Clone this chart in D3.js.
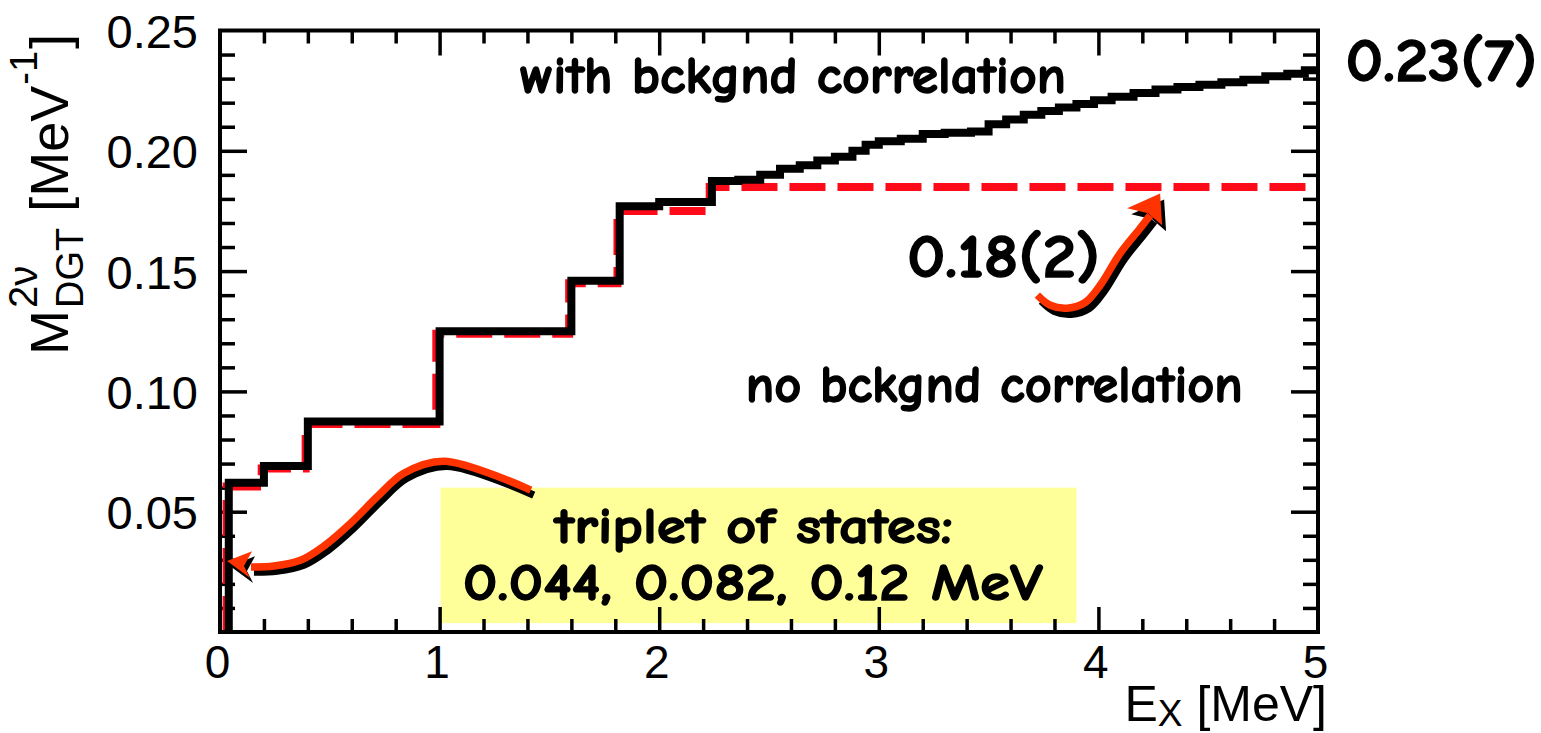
<!DOCTYPE html>
<html>
<head>
<meta charset="utf-8">
<script src="https://cdn.jsdelivr.net/npm/d3@7/dist/d3.min.js"></script>
<style>
body { margin: 0; background: #fff; }
.tick line { stroke: #000; stroke-width: 3.5; }
.lbl { font-family: "Liberation Sans", Arial, Helvetica, sans-serif; fill: #000; }
.cmc { font-family: "Comic Sans MS", "Comic Neue", "Open Sans", sans-serif; font-weight: 700; fill: #000; stroke: #000; stroke-width: 1.3; }
</style>
</head>
<body>
<svg id="chart"></svg>
<script>
// with bckgnd correlation: energy where each step starts, value after it
var withE = [0.04, 0.2, 0.4, 1.0, 1.6, 1.82, 2.0, 2.24, 2.36, 2.46, 2.55, 2.64, 2.72, 2.80, 2.88, 2.94, 3.00, 3.10, 3.20, 3.30,
             3.42, 3.50, 3.58, 3.66, 3.74, 3.82, 3.90, 3.98, 4.06, 4.16, 4.26, 4.36, 4.46, 4.56, 4.66, 4.76, 4.86, 4.94];
var withM = [0.062, 0.069, 0.0875, 0.125, 0.146, 0.177, 0.1787, 0.1875, 0.188, 0.190, 0.1925, 0.194, 0.196, 0.1975, 0.200, 0.2025, 0.204, 0.205, 0.207, 0.2075,
             0.208, 0.211, 0.213, 0.215, 0.2165, 0.218, 0.2195, 0.221, 0.2225, 0.224, 0.2255, 0.2265, 0.2275, 0.2285, 0.2295, 0.231, 0.232, 0.2335];
// no bckgnd correlation
var noE = [0.03, 0.19, 0.39, 0.985, 1.59, 1.81, 2.23];
var noM = [0.0605, 0.068, 0.0865, 0.124, 0.145, 0.175, 0.185];

var xMajor = [0, 1, 2, 3, 4, 5];
var yMajor = [0.05, 0.10, 0.15, 0.20, 0.25];

// annotation arrows, in data units [E, M]
var arrowLowE = [1.415, 1.019, 0.837, 0.719, 0.596, 0.473, 0.369, 0.246, 0.141];
var arrowLowM = [0.0590, 0.0710, 0.0660, 0.0565, 0.0453, 0.0357, 0.0299, 0.0274, 0.0270];
var headLow = [[0.032, 0.0295], [0.146, 0.0336], [0.109, 0.0274], [0.137, 0.0224]];
var arrowHighE = [3.722, 3.781, 3.858, 3.940, 4.008, 4.099, 4.190, 4.236];
var arrowHighM = [0.1400, 0.1358, 0.1346, 0.1370, 0.1441, 0.1574, 0.1678, 0.1732];
var headHigh = [[4.281, 0.1823], [4.131, 0.1761], [4.227, 0.1740], [4.290, 0.1691]];

var width = 1541, height = 733;
var svg = d3.select("#chart").attr("width", width).attr("height", height);

var x = d3.scaleLinear().domain([0, 5]).range([220, 1318]);
var y = d3.scaleLinear().domain([0, 0.25]).range([632, 30.5]);

// yellow box
svg.append("rect")
  .attr("x", x(1.005)).attr("y", y(0.06))
  .attr("width", x(3.9) - x(1.005)).attr("height", y(0.0037) - y(0.06))
  .attr("fill", "#ffff99");

// minor tick positions
var xMinor = d3.range(0.2, 5, 0.2).filter(function(v){ return Math.abs(v - Math.round(v)) > 1e-6; });
var yMinor = d3.range(0.01, 0.25, 0.01).filter(function(v){ return Math.abs(v * 20 - Math.round(v * 20)) > 1e-6; });

function noDomain(g){ g.select(".domain").remove(); }

svg.append("g").attr("transform", "translate(0,632)")
  .call(d3.axisBottom(x).tickValues(xMajor.slice(1, -1)).tickSize(-25).tickFormat("")).call(noDomain);
svg.append("g").attr("transform", "translate(0,632)")
  .call(d3.axisBottom(x).tickValues(xMinor).tickSize(-13).tickFormat("")).call(noDomain);
svg.append("g").attr("transform", "translate(0,30.5)")
  .call(d3.axisTop(x).tickValues(xMajor.slice(1, -1)).tickSize(-25).tickFormat("")).call(noDomain);
svg.append("g").attr("transform", "translate(0,30.5)")
  .call(d3.axisTop(x).tickValues(xMinor).tickSize(-13).tickFormat("")).call(noDomain);
svg.append("g").attr("transform", "translate(220,0)")
  .call(d3.axisLeft(y).tickValues(yMajor.slice(0, -1)).tickSize(-27).tickFormat("")).call(noDomain);
svg.append("g").attr("transform", "translate(220,0)")
  .call(d3.axisLeft(y).tickValues(yMinor).tickSize(-15).tickFormat("")).call(noDomain);
svg.append("g").attr("transform", "translate(1318,0)")
  .call(d3.axisRight(y).tickValues(yMajor.slice(0, -1)).tickSize(-27).tickFormat("")).call(noDomain);
svg.append("g").attr("transform", "translate(1318,0)")
  .call(d3.axisRight(y).tickValues(yMinor).tickSize(-15).tickFormat("")).call(noDomain);

// tick labels
var xl = svg.append("g").attr("transform", "translate(0,632)")
  .call(d3.axisBottom(x).tickValues(xMajor).tickSize(0).tickPadding(13).tickFormat(d3.format("d")))
  .call(noDomain);
xl.selectAll("text").attr("class", "lbl").attr("font-size", 46).attr("dx", -3);
var yl = svg.append("g").attr("transform", "translate(220,0)")
  .call(d3.axisLeft(y).tickValues(yMajor).tickSize(0).tickPadding(22).tickFormat(d3.format(".2f")))
  .call(noDomain);
yl.selectAll("text").attr("class", "lbl").attr("font-size", 47).attr("dy", "0.36em");

// step curves
function stepPts(es, ms){
  var pts = [[es[0], 0]];
  for (var i = 0; i < es.length; i++) pts.push([es[i], ms[i]]);
  pts.push([5, ms[ms.length - 1]]);
  return pts;
}
var step = d3.line().x(function(d){ return x(d[0]); }).y(function(d){ return y(d[1]); }).curve(d3.curveStepAfter);

svg.append("path").attr("d", step(stepPts(noE, noM)))
  .attr("fill", "none").attr("stroke", "#ff0a18").attr("stroke-width", 8)
  .attr("stroke-dasharray", "36,12");
svg.append("path").attr("d", step(stepPts(withE, withM)))
  .attr("fill", "none").attr("stroke", "#000").attr("stroke-width", 8)
  .attr("stroke-linejoin", "miter");

// frame
svg.append("rect").attr("x", 220).attr("y", 30.5).attr("width", 1098).attr("height", 601.5)
  .attr("fill", "none").attr("stroke", "#000").attr("stroke-width", 4);

// arrows with black shadow
var smooth = d3.line().x(function(d){ return x(d[0]); }).y(function(d){ return y(d[1]); }).curve(d3.curveCatmullRom);
function arrow(es, ms, head, dx, dy){
  var pts = es.map(function(e, i){ return [e, ms[i]]; });
  var hp = head.map(function(p){ return [x(p[0]), y(p[1])]; });
  var layers = [["#000", dx, dy], ["#ff3300", 0, 0]];
  layers.forEach(function(l){
    var g = svg.append("g").attr("transform", "translate(" + l[1] + "," + l[2] + ")");
    g.append("path").attr("d", smooth(pts)).attr("fill", "none")
      .attr("stroke", l[0]).attr("stroke-width", 7.5);
    g.append("polygon").attr("points", hp.map(function(p){ return p.join(","); }).join(" "))
      .attr("fill", l[0]);
  });
}
arrow(arrowLowE, arrowLowM, headLow, 3, 5);
arrow(arrowHighE, arrowHighM, headHigh, 4, 6);

// annotations
function note(txt, e, m, size, len){
  return svg.append("text").attr("class", "cmc")
    .attr("x", x(e)).attr("y", y(m)).attr("font-size", size)
    .attr("textLength", len).attr("lengthAdjust", "spacingAndGlyphs").text(txt);
}
note("with bckgnd correlation", 1.366, 0.2241, 52, 546);
note("no bckgnd correlation", 2.394, 0.0955, 52, 497);
note("0.23(7)", 5.125, 0.2292, 60, 192);
note("0.18(2)", 3.128, 0.1475, 60, 193);
note("triplet of states:", 1.525, 0.0370, 50, 398);
note("0.044, 0.082, 0.12 MeV", 1.105, 0.0133, 52, 580);

// axis titles
svg.append("text").attr("class", "lbl").attr("text-anchor", "end")
  .attr("x", 1327).attr("y", 721).attr("font-size", 50)
  .call(function(t){
    t.append("tspan").text("E");
    t.append("tspan").attr("font-size", 37).attr("dy", 5).text("X");
    t.append("tspan").attr("dy", -5).text(" [MeV]");
  });

var yt = svg.append("g").attr("transform", "translate(68,355) rotate(-90)");
function part(txt, px, py, size){
  return yt.append("text").attr("class", "lbl").attr("x", px).attr("y", py)
    .attr("font-size", size).text(txt);
}
var mw = part("M", 0, 0, 54).node().getComputedTextLength();
var supW = part("2\u03bd", mw + 2, -31, 40).node().getComputedTextLength();
var subW = part("DGT", mw + 2, 15, 38).node().getComputedTextLength();
var ux = mw + 2 + Math.max(supW, subW) + 16;
var uw = part("[MeV", ux, 0, 54).node().getComputedTextLength();
var ew = part("-1", ux + uw + 1, -31, 38).node().getComputedTextLength();
part("]", ux + uw + ew + 3, 0, 54);
</script>
</body>
</html>
